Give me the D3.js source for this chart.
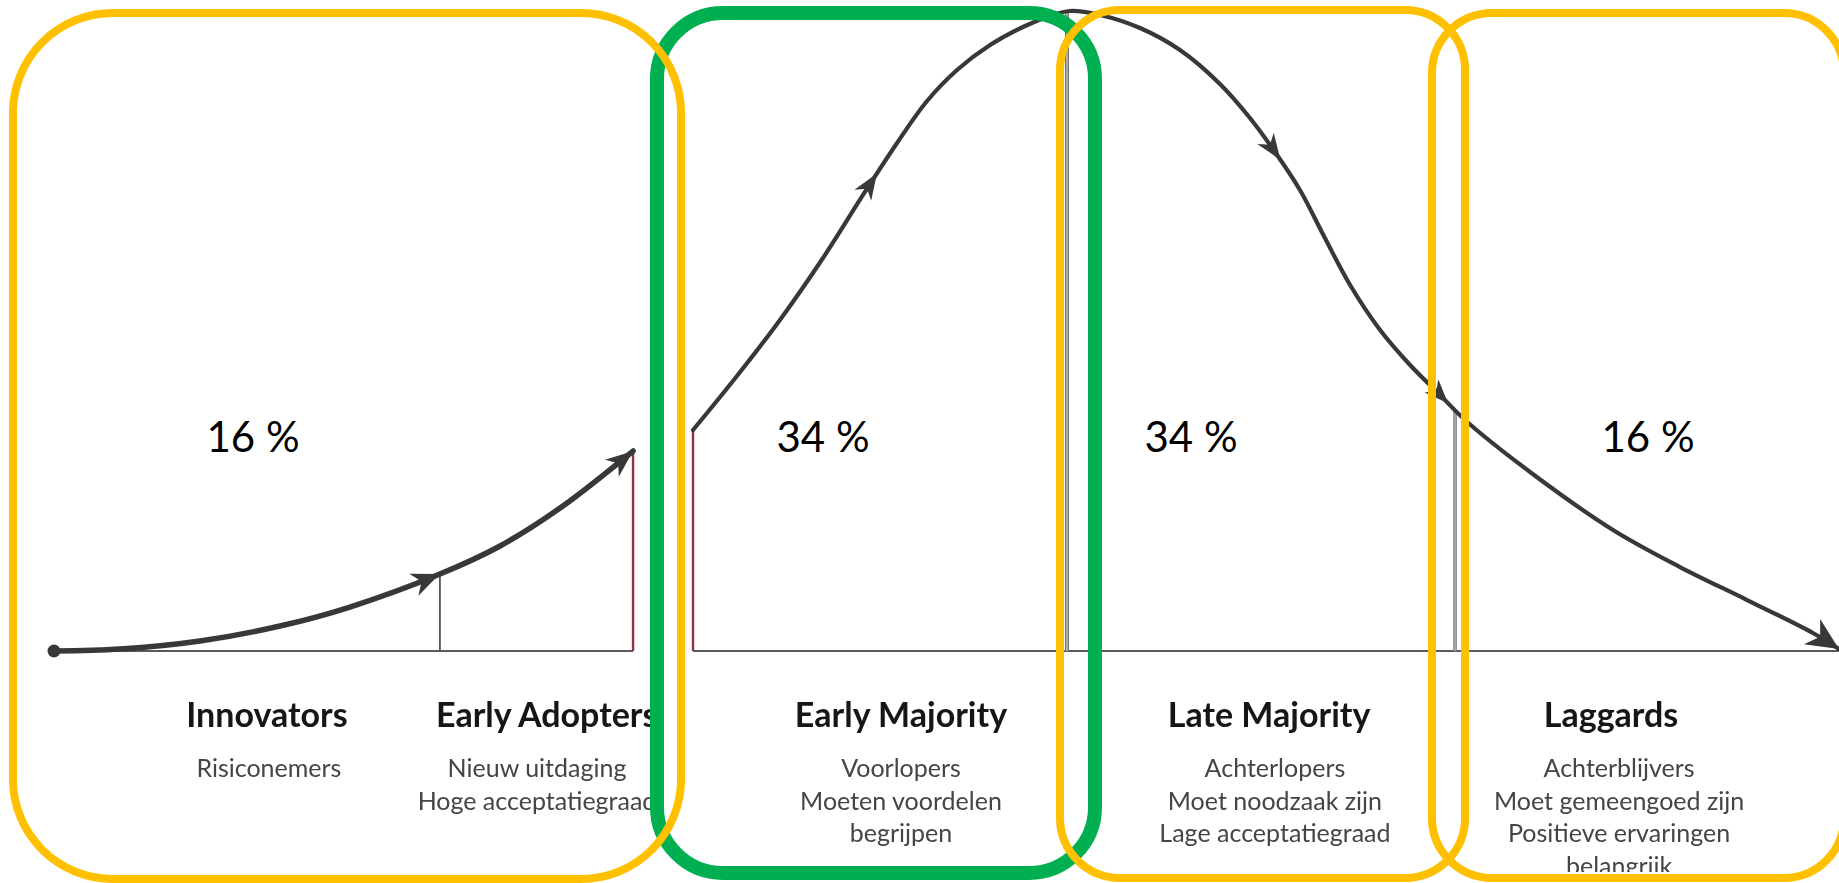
<!DOCTYPE html>
<html><head><meta charset="utf-8">
<script src="https://cdn.jsdelivr.net/npm/d3@7"></script>
<style>html,body{margin:0;padding:0;background:#fff;overflow:hidden} svg{display:block}</style>
</head><body><svg id="chart" width="1839" height="883"></svg>
<script>
// ---------------- DATA ----------------
// adoption curve, x = adoption time (0..100), y = relative share of adopters (0..100)
const leftCurveX  = [0, 3.70, 8.18, 12.66, 16.58, 21.62, 24.99, 28.35, 32.44];
const leftCurveY  = [0, 0.31, 1.56, 3.89, 6.85, 11.99, 16.36, 22.27, 31.15];
const rightCurveX = [35.80, 38.26, 40.67, 43.08, 45.43, 47.23, 48.91, 50.59, 52.44, 54.40, 55.80, 56.92,
                     58.60, 60.84, 63.08, 65.32, 67.00, 68.40, 69.80, 71.20, 72.61, 74.29, 75.97, 77.65,
                     79.05, 82.69, 87.34, 91.09, 94.85, 98.54, 100];
const rightCurveY = [34.42, 42.83, 51.56, 61.21, 71.50, 79.13, 85.67, 90.50, 94.39, 97.35, 98.91, 99.69,
                     99.07, 97.04, 93.61, 88.32, 83.02, 77.73, 71.81, 64.33, 57.01, 50.00, 44.55, 39.88,
                     35.98, 27.88, 18.85, 13.08, 7.94, 2.80, 0.31];
const arrowX = [21.62, 32.44, 46.1, 68.7, 78.1, 100];
const dividerX   = [21.62, 32.44, 35.80, 56.75, 78.49];
const dividerTop = [11.99, 31.15, 34.42, 99.7, 37.5];
const baseLeft  = [0, 32.44];
const baseRight = [35.80, 100];

const categories   = ["Innovators", "Early Adopters", "Early Majority", "Late Majority", "Laggards"];
const categoryX    = [11.93, 27.60, 47.45, 68.07, 87.23];
const descriptions = [
  ["Risiconemers"],
  ["Nieuw uitdaging", "Hoge acceptatiegraad"],
  ["Voorlopers", "Moeten voordelen", "begrijpen"],
  ["Achterlopers", "Moet noodzaak zijn", "Lage acceptatiegraad"],
  ["Achterblijvers", "Moet gemeengoed zijn", "Positieve ervaringen", "belangrijk"]
];
const descriptionX = [12.04, 27.06, 47.45, 68.40, 87.68];

const groups     = ["Innovators + Early Adopters", "Early Majority", "Late Majority", "Laggards"];
const groupStart = [-2.30, 33.78, 56.36, 77.20];
const groupEnd   = [35.13, 58.32, 79.05, 100.28];
const groupShare = [16, 34, 34, 16];
const shareX     = [11.15, 43.08, 63.70, 89.30];
const highlighted = "Early Majority";

// ---------------- LAYOUT ----------------
const W = 1839, H = 883;
const x = d3.scaleLinear().domain([0, 100]).range([54, 1839]);
const y = d3.scaleLinear().domain([0, 100]).range([651, 9]);
const svg = d3.select("#chart");
const font = "Lato, 'Open Sans', sans-serif";
const curveColor = "#383838";

const defs = svg.append("defs");
defs.append("clipPath").attr("id", "imgclip")
  .selectAll("rect").data([[0, 659], [685, W]]).join("rect")
  .attr("x", d => d[0]).attr("y", 0).attr("width", d => d[1] - d[0]).attr("height", 872);
defs.append("filter").attr("id", "soft").append("feGaussianBlur").attr("stdDeviation", 0.5);

const img = svg.append("g").attr("clip-path", "url(#imgclip)");

// baseline
const baseG = img.append("g");
[baseLeft, baseRight].forEach(b => {
  baseG.append("line").attr("x1", x(b[0])).attr("x2", x(b[1]))
    .attr("y1", y(0)).attr("y2", y(0))
    .attr("stroke", "#5a5a5a").attr("stroke-width", 2.2);
});

// dividers
const dividerStyle = [
  {c: "#555", w: 1.8, inner: null},
  {c: "#8a3540", w: 2.4, inner: null},
  {c: "#8a3540", w: 2.4, inner: null},
  {c: "#6f6f6f", w: 4, inner: "#c8c8c8"},
  {c: "#6f6f6f", w: 3.4, inner: "#c8c8c8"}
];
dividerX.forEach((dx, i) => {
  const s = dividerStyle[i];
  img.append("line").attr("x1", x(dx)).attr("x2", x(dx))
    .attr("y1", y(0)).attr("y2", y(dividerTop[i]))
    .attr("stroke", s.c).attr("stroke-width", s.w);
  if (s.inner) img.append("line").attr("x1", x(dx)).attr("x2", x(dx))
    .attr("y1", y(0)).attr("y2", y(dividerTop[i]))
    .attr("stroke", s.inner).attr("stroke-width", s.w * 0.35);
});

// curves
const line = d3.line().x(d => x(d[0])).y(d => y(d[1])).curve(d3.curveCatmullRom.alpha(0.5));
const leftPts  = leftCurveX.map((v, i) => [v, leftCurveY[i]]);
const rightPts = rightCurveX.map((v, i) => [v, rightCurveY[i]]);
const leftPath = img.append("path").attr("d", line(leftPts)).attr("fill", "none")
  .attr("stroke", curveColor).attr("stroke-width", 5.5).attr("stroke-linecap", "round");
const rightPath = img.append("path").attr("d", line(rightPts)).attr("fill", "none")
  .attr("stroke", curveColor).attr("stroke-width", 4.2).attr("stroke-linecap", "round");

// start dot
img.append("circle").attr("cx", x(leftCurveX[0])).attr("cy", y(leftCurveY[0])).attr("r", 6.5).attr("fill", curveColor);

// arrowheads
const arrowSize = [[28, 12], [27, 11], [26, 10], [26, 10], [24, 9.5], [32, 15]];
arrowX.forEach((ax, i) => {
  const p = ax <= 33 ? leftPath.node() : rightPath.node();
  const total = p.getTotalLength();
  const tx = x(ax);
  let best = 0, bd = 1e9;
  for (let l = 0; l <= total; l += 0.5) {
    const pt = p.getPointAtLength(l);
    const d = Math.abs(pt.x - tx);
    if (d < bd) { bd = d; best = l; }
  }
  const tip = p.getPointAtLength(best);
  const back = p.getPointAtLength(Math.max(0, best - 6));
  const ang = Math.atan2(tip.y - back.y, tip.x - back.x) * 180 / Math.PI;
  const [len, hw] = arrowSize[i];
  img.append("path")
    .attr("d", `M0,0 L${-len},${-hw} L${-len * 0.7},0 L${-len},${hw} Z`)
    .attr("transform", `translate(${tip.x},${tip.y}) rotate(${ang})`)
    .attr("fill", curveColor);
});

// category labels
const labelG = img.append("g").attr("filter", "url(#soft)");
categories.forEach((c, i) => {
  labelG.append("text").attr("x", x(categoryX[i])).attr("y", 727)
    .attr("text-anchor", "middle").attr("font-family", font).attr("font-weight", 700)
    .attr("font-size", 34).attr("fill", "#151515").text(c);
  descriptions[i].forEach((t, j) => {
    labelG.append("text").attr("x", x(descriptionX[i])).attr("y", 777 + j * 32.6)
      .attr("text-anchor", "middle").attr("font-family", font)
      .attr("font-size", 25).attr("fill", "#444").text(t);
  });
});

// percentage labels
groups.forEach((g, i) => {
  svg.append("text").attr("x", x(shareX[i])).attr("y", 452)
    .attr("text-anchor", "middle").attr("font-family", font)
    .attr("font-size", 42).attr("fill", "#000").text(groupShare[i] + " %");
});

// group boxes
const boxV = [{t: 13, b: 879, r: 100}, {t: 13, b: 873, r: 66}, {t: 10, b: 878, r: 60}, {t: 13, b: 878, r: 60}];
const order = groups.map((g, i) => i).sort((a, b) => (groups[a] === highlighted ? -1 : 0) - (groups[b] === highlighted ? -1 : 0));
order.forEach(i => {
  const hi = groups[i] === highlighted;
  const v = boxV[i];
  svg.append("rect")
    .attr("x", x(groupStart[i])).attr("y", v.t)
    .attr("width", x(groupEnd[i]) - x(groupStart[i])).attr("height", v.b - v.t)
    .attr("rx", v.r).attr("ry", v.r)
    .attr("fill", "none")
    .attr("stroke", hi ? "#00b050" : "#ffc000")
    .attr("stroke-width", hi ? 14 : 8);
});
</script></body></html>
